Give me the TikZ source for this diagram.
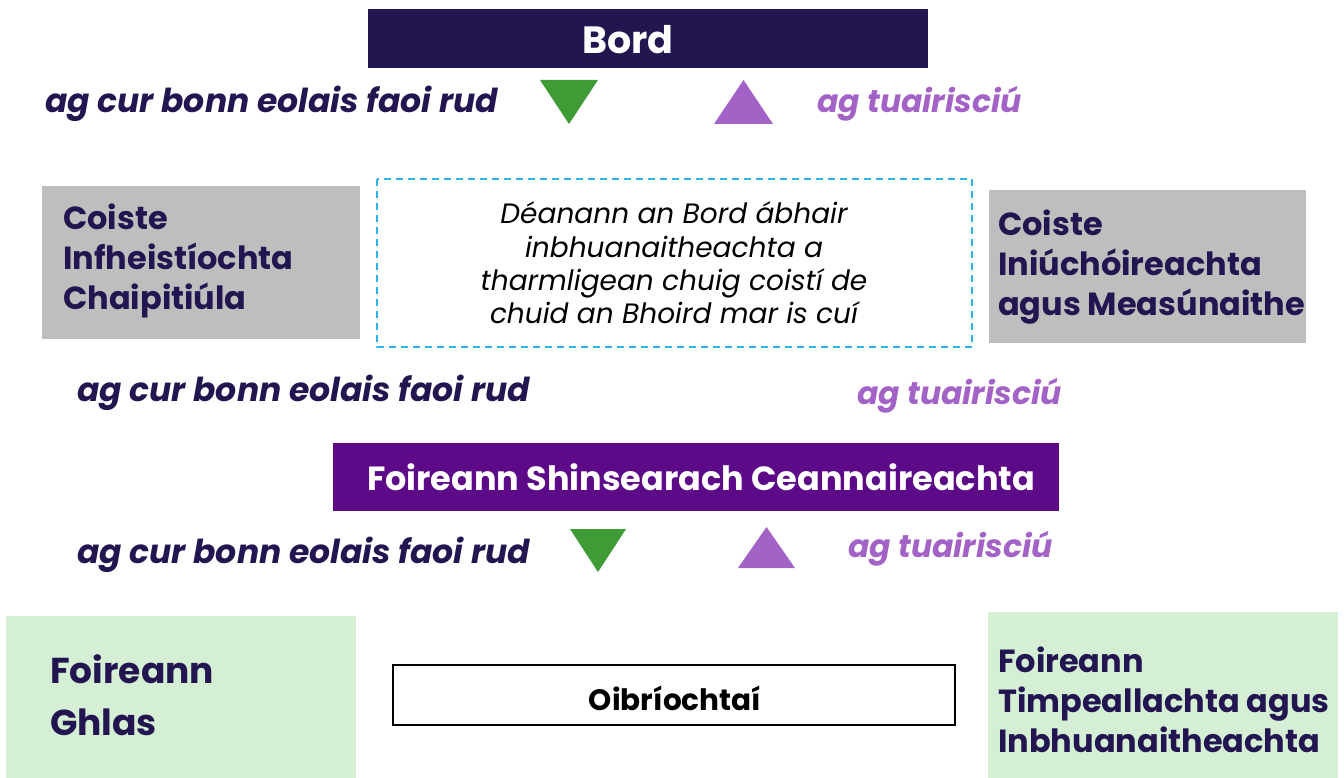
\documentclass[tikz,border=0pt]{standalone}
\usepackage{fontspec}
\setmainfont{Poppins}
\begin{document}
\begin{tikzpicture}[x=1pt,y=-1pt,
  lbl/.style={inner sep=0,font=\fontsize{33}{33}\selectfont\bfseries\itshape,text=navyc},
  rpt/.style={inner sep=0,font=\fontsize{31.5}{31.5}\selectfont\bfseries\itshape,text=purpc},
  boxtxt/.style={inner sep=0,align=left,font=\fontsize{32}{40}\selectfont\bfseries,text=navyc}]
\definecolor{navyc}{RGB}{35,21,80}
\definecolor{purpc}{RGB}{163,99,198}
\definecolor{greenc}{RGB}{63,155,53}
\definecolor{greyc}{RGB}{190,190,190}
\definecolor{violc}{RGB}{92,10,135}
\definecolor{lgreen}{RGB}{213,239,213}
\definecolor{cyanc}{RGB}{43,181,230}
\useasboundingbox (0,0) rectangle (1344,778);
\fill[white] (0,0) rectangle (1344,778);
% Bord
\fill[navyc] (368,9) rectangle (928,68);
\node[inner sep=0,text=white,font=\fontsize{38}{38}\selectfont\bfseries] (bord) at (628,40) {Bord};
% row 1 labels
\node[lbl,anchor=west] (l1) at (45,104) {ag cur bonn eolais faoi rud};
\fill[greenc] (540,80) -- (598,80) -- (569,124) -- cycle;
\fill[purpc] (714,124) -- (773,124) -- (743.5,80) -- cycle;
\node[rpt,anchor=west] (r1) at (817,104) {ag tuairisciú};
% committees
\fill[greyc] (42,186) rectangle (360,339);
\node[boxtxt,anchor=west] (c1) at (63,261) {Coiste\\Infheistíochta\\Chaipitiúla};
\draw[cyanc,line width=1.5pt,dash pattern=on 7pt off 5pt] (377,179) rectangle (972,347);
\node[inner sep=0,align=center,font=\fontsize{28}{33.3}\selectfont\itshape,text=black] (mid) at (674,263) {Déanann an Bord ábhair\\inbhuanaitheachta a\\tharmligean chuig coistí de\\chuid an Bhoird mar is cuí};
\fill[greyc] (989,190) rectangle (1306,343);
\node[boxtxt,anchor=west] (c2) at (998,267) {Coiste\\Iniúchóireachta\\agus Measúnaithe};
% row 2 labels
\node[lbl,anchor=west] (l2) at (77,393) {ag cur bonn eolais faoi rud};
\node[rpt,anchor=west] (r2) at (857,396) {ag tuairisciú};
% SLT
\fill[violc] (333,443) rectangle (1059,511);
\node[inner sep=0,text=white,font=\fontsize{33.5}{33.5}\selectfont\bfseries] (slt) at (701,477) {Foireann Shinsearach Ceannaireachta};
% row 3
\node[lbl,anchor=west] (l3) at (77,555) {ag cur bonn eolais faoi rud};
\fill[greenc] (570,529) -- (626,529) -- (598,572) -- cycle;
\fill[purpc] (738,568) -- (795,568) -- (766.5,527) -- cycle;
\node[rpt,anchor=west] (r3) at (848,549) {ag tuairisciú};
% bottom
\fill[lgreen] (6,616) rectangle (356,778);
\node[inner sep=0,align=left,anchor=west,font=\fontsize{36}{52}\selectfont\bfseries,text=navyc] (g1) at (50,695) {Foireann\\Ghlas};
\draw[black,line width=2pt,fill=white] (393,665) rectangle (955,725);
\node[inner sep=0,font=\fontsize{29.5}{29.5}\selectfont\bfseries,text=black] (ops) at (675,698) {Oibríochtaí};
\fill[lgreen] (988,612) rectangle (1338,778);
\node[boxtxt,anchor=west] (g2) at (998,700) {Foireann\\Timpeallachta agus\\Inbhuanaitheachta};
\end{tikzpicture}
\end{document}
